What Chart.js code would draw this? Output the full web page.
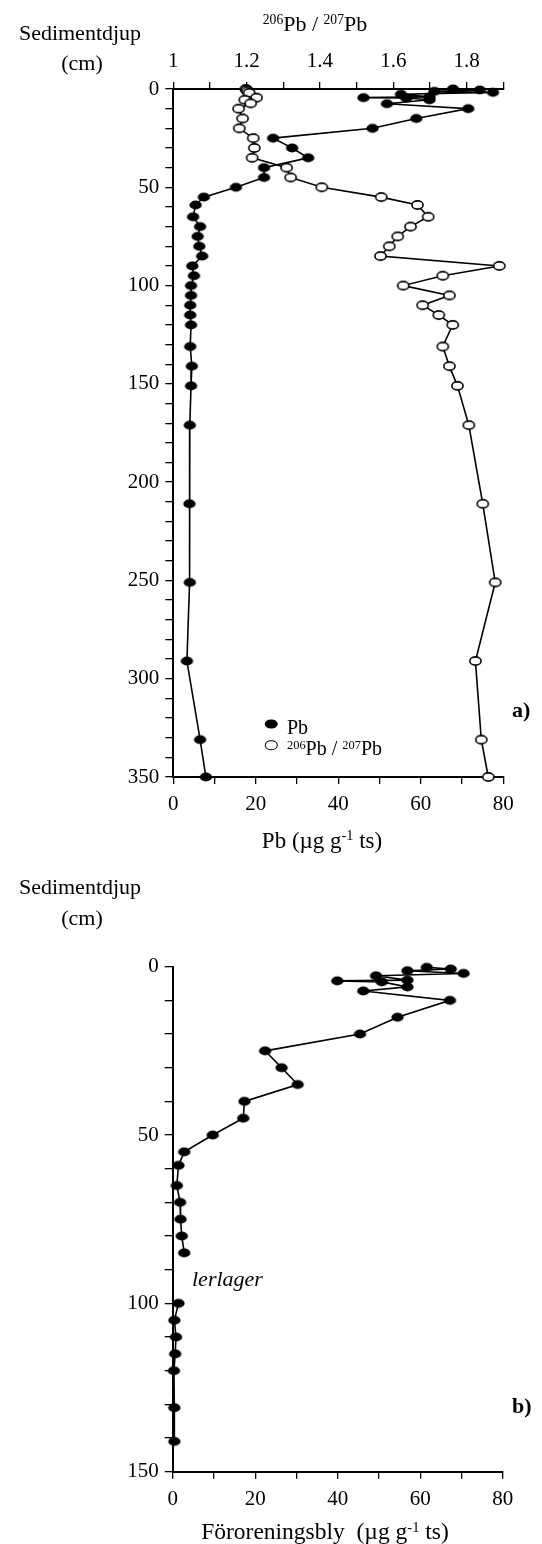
<!DOCTYPE html>
<html>
<head>
<meta charset="utf-8">
<script src="https://cdn.jsdelivr.net/npm/chart.js@4.4.0/dist/chart.umd.min.js"></script>
<style>
  html, body { margin: 0; padding: 0; background: #fff; }
  body { width: 542px; height: 1544px; position: relative; overflow: hidden;
         font-family: "Liberation Serif", "Times New Roman", serif; color: #000; }
  canvas { position: absolute; left: 0; }
  #chartA { top: 0; }
  #chartB { top: 860px; }
  .txt { position: absolute; white-space: nowrap; font-size: 22px; line-height: 1;
         transform: translate(-50%, -50%); }
  .left { transform: translate(0, -50%); }
  sup { font-size: 0.62em; vertical-align: 0.5em; line-height: 0; }
  .mark { position: absolute; border-radius: 50%; box-sizing: border-box;
          transform: translate(-50%, -50%); }
</style>
</head>
<body>
<canvas id="chartA" width="542" height="860"></canvas>
<canvas id="chartB" width="542" height="684"></canvas>

<div class="txt" style="left:80px;top:33px">Sedimentdjup</div>
<div class="txt" style="left:82px;top:63px">(cm)</div>
<div class="txt" style="left:315px;top:24px"><sup>206</sup>Pb / <sup>207</sup>Pb</div>
<div class="txt" style="left:322px;top:840px;font-size:23px">Pb (µg g<sup>-1</sup> ts)</div>
<div class="mark" style="left:271px;top:724px;width:12.5px;height:9px;background:#000"></div>
<div class="mark" style="left:271px;top:745px;width:12.5px;height:9.5px;border:1.5px solid #000;background:#fff"></div>
<div class="txt left" style="left:287px;top:727px;font-size:20px">Pb</div>
<div class="txt left" style="left:287px;top:748px;font-size:20px"><sup>206</sup>Pb / <sup>207</sup>Pb</div>
<div class="txt left" style="left:512px;top:710px;font-weight:bold">a)</div>

<div class="txt" style="left:80px;top:887px">Sedimentdjup</div>
<div class="txt" style="left:82px;top:918px">(cm)</div>
<div class="txt left" style="left:192px;top:1279px;font-style:italic">lerlager</div>
<div class="txt left" style="left:512px;top:1406px;font-weight:bold">b)</div>
<div class="txt" style="left:325px;top:1532px;font-size:23.5px">Föroreningsbly&nbsp; (µg g<sup>-1</sup> ts)</div>

<script>
// a) total Pb (µg/g ts) against sediment depth (cm)
const depthPbA = [0, 0.5, 1.2, 1.7, 2.7, 4, 4.4, 4.6, 5.5, 7.5, 10, 15, 20, 25, 30, 35, 40, 45, 50,
  55, 59, 65, 70, 75, 80, 85, 90, 95, 100, 105, 110, 115, 120, 131, 141, 151, 171, 211, 251, 291, 331, 350];
const pbA = [67.8, 74.3, 63.3, 77.5, 55.2, 62.1, 46.1, 56.5, 62.1, 51.8, 71.5, 58.9, 48.3, 24.2, 28.8, 32.7, 22, 22, 15.2,
  7.4, 5.4, 4.8, 6.5, 5.9, 6.3, 7.0, 4.6, 5.0, 4.3, 4.3, 4.1, 4.1, 4.3, 4.1, 4.5, 4.3, 4.0, 3.9, 4.0, 3.3, 6.5, 7.9];

// a) 206Pb/207Pb ratio against depth
const depthRatioA = [0, 0.5, 1.2, 2, 4.4, 5.5, 7.3, 10, 15, 20, 25, 30, 35, 40, 45, 50, 55, 59, 65, 70,
  75, 80, 85, 90, 95, 100, 105, 110, 115, 120, 131, 141, 151, 171, 211, 251, 291, 331, 350];
const ratioA = [1.198, 1.2, 1.203, 1.207, 1.227, 1.195, 1.211, 1.178, 1.189, 1.18, 1.218, 1.221, 1.215, 1.309, 1.32, 1.405, 1.567, 1.666, 1.695, 1.647,
  1.612, 1.589, 1.565, 1.889, 1.735, 1.627, 1.753, 1.68, 1.724, 1.762, 1.735, 1.753, 1.775, 1.806, 1.844, 1.878, 1.824, 1.84, 1.859];

// b) pollution lead; null = break at the clay layer (lerlager)
const depthB = [0.2, 0.7, 1.2, 2, 2.7, 4, 4.2, 4.5, 6, 7.2, 10, 15, 20, 25, 30, 35, 40, 45, 50,
  55, 59, 65, 70, 75, 80, 85, null, 100, 105, 110, 115, 120, 131, 141];
const pbB = [61.6, 67.4, 56.9, 70.5, 49.3, 56.9, 39.9, 50.7, 56.9, 46.2, 67.2, 54.5, 45.4, 22.4, 26.4, 30.3, 17.4, 17.1, 9.7,
  2.8, 1.4, 1.0, 1.8, 1.9, 2.2, 2.8, null, 1.4, 0.4, 0.8, 0.6, 0.3, 0.4, 0.4];

const pbTicks = [0, 20, 40, 60, 80];
const ratioTicks = [1, 1.2, 1.4, 1.6, 1.8];
const depthTicksA = [0, 50, 100, 150, 200, 250, 300, 350];
const depthTicksB = [0, 50, 100, 150];

const toPoints = (xs, ys) => xs.map((x, i) => ({ x: x, y: ys[i] }));

function marker(filled) {
  const c = document.createElement("canvas");
  c.width = 15;
  c.height = 12;
  const ctx = c.getContext("2d");
  ctx.beginPath();
  if (filled) {
    ctx.ellipse(7.5, 6, 6.2, 4.4, 0, 0, Math.PI * 2);
    ctx.fillStyle = "#000";
    ctx.fill();
  } else {
    ctx.ellipse(7.5, 6, 5.6, 4.1, 0, 0, Math.PI * 2);
    ctx.fillStyle = "#fff";
    ctx.fill();
    ctx.lineWidth = 1.6;
    ctx.strokeStyle = "#000";
    ctx.stroke();
  }
  return c;
}
const filledDot = marker(true);
const openDot = marker(false);

Chart.defaults.font.family = "'Liberation Serif', 'Times New Roman', serif";
Chart.defaults.font.size = 21;
Chart.defaults.color = "#000";

const tickGrid = { drawOnChartArea: false, drawTicks: true, tickLength: 7, color: "#000", lineWidth: 1.3 };
const axisBorder = { display: true, color: "#000", width: 2 };

function series(data, style, axis) {
  return {
    data: data,
    xAxisID: axis,
    showLine: true,
    borderColor: "#000",
    borderWidth: 1.6,
    tension: 0,
    spanGaps: false,
    pointStyle: style,
    pointRadius: 5,
    pointHoverRadius: 5,
    clip: false,
  };
}

const baseOptions = {
  responsive: false,
  devicePixelRatio: 1,
  animation: false,
  events: [],
  plugins: { legend: { display: false }, tooltip: { enabled: false } },
};

new Chart(document.getElementById("chartA"), {
  type: "scatter",
  data: {
    datasets: [
      series(toPoints(pbA, depthPbA), filledDot, "x"),
      series(toPoints(ratioA, depthRatioA), openDot, "x2"),
    ],
  },
  options: {
    ...baseOptions,
    layout: { padding: { left: 0, right: 38.7, top: 0, bottom: 0 } },
    scales: {
      x: {
        type: "linear", position: "bottom", min: 0, max: 80,
        afterFit: (s) => { s.height = 83; },
        ticks: { stepSize: 10, autoSkip: false, maxRotation: 0, padding: 8,
          callback: (v) => (pbTicks.includes(v) ? v : "") },
        grid: tickGrid,
        border: axisBorder,
      },
      x2: {
        type: "linear", position: "top", min: 1, max: 1.9,
        afterFit: (s) => { s.height = 89; },
        ticks: { stepSize: 0.1, autoSkip: false, maxRotation: 0, padding: 8,
          callback: (v) => {
            const r = Math.round(v * 10) / 10;
            return ratioTicks.includes(r) ? String(r) : "";
          } },
        grid: tickGrid,
        border: axisBorder,
      },
      y: {
        type: "linear", reverse: true, min: 0, max: 350,
        afterFit: (s) => { s.width = 173.3; },
        ticks: { stepSize: 10, autoSkip: false, padding: 6,
          callback: (v) => (depthTicksA.includes(v) ? v : "") },
        grid: { ...tickGrid, tickLength: 8 },
        border: axisBorder,
      },
    },
  },
});

new Chart(document.getElementById("chartB"), {
  type: "scatter",
  data: {
    datasets: [series(toPoints(pbB, depthB), filledDot, "x")],
  },
  options: {
    ...baseOptions,
    layout: { padding: { left: 0, right: 39.3, top: 106.7, bottom: 0 } },
    scales: {
      x: {
        type: "linear", position: "bottom", min: 0, max: 80,
        afterFit: (s) => { s.height = 72.3; },
        ticks: { stepSize: 10, autoSkip: false, maxRotation: 0, padding: 8,
          callback: (v) => (pbTicks.includes(v) ? v : "") },
        grid: tickGrid,
        border: axisBorder,
      },
      y: {
        type: "linear", reverse: true, min: 0, max: 150,
        afterFit: (s) => { s.width = 172.7; },
        ticks: { stepSize: 10, autoSkip: false, padding: 6,
          callback: (v) => (depthTicksB.includes(v) ? v : "") },
        grid: { ...tickGrid, tickLength: 8 },
        border: axisBorder,
      },
    },
  },
});
</script>
</body>
</html>
